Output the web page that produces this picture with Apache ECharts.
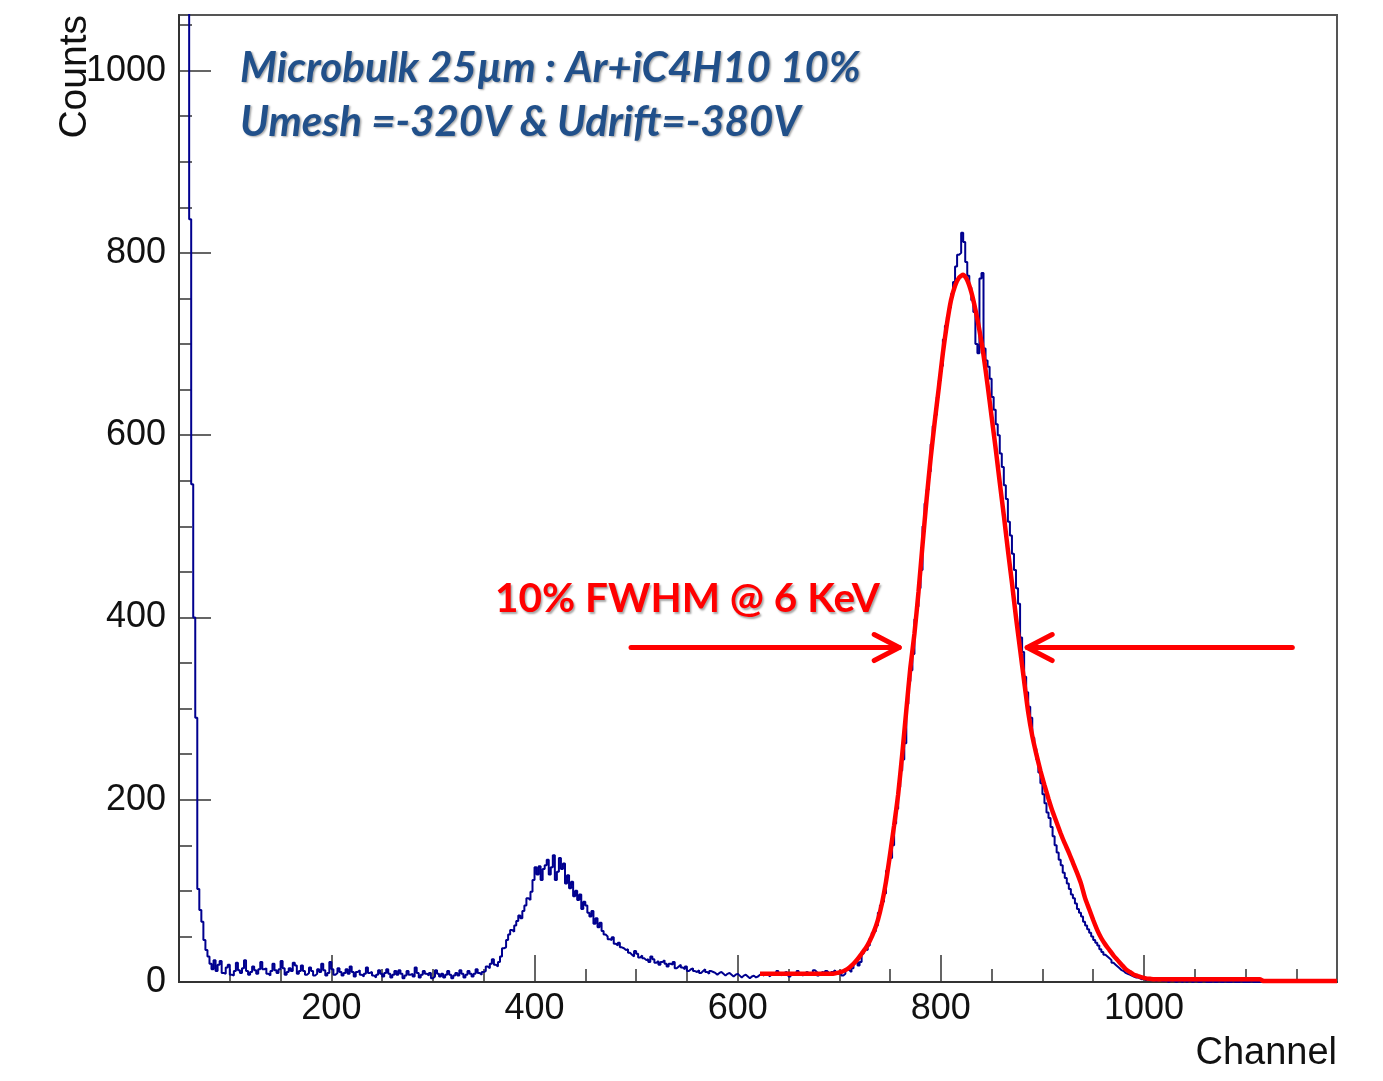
<!DOCTYPE html>
<html>
<head>
<meta charset="utf-8">
<script src="https://cdn.jsdelivr.net/npm/echarts@6/dist/echarts.min.js"></script>
<style>
  html, body { margin: 0; padding: 0; background: #ffffff; }
  #chart { width: 1383px; height: 1081px; }
</style>
</head>
<body>
<div id="chart"></div>
<script>
// Pulse-height spectrum, 2-channel bins starting at channel 50 (20 bins per row)
const binStart = 50;
const binWidth = 2;
const counts = [
  1500, 1500, 1500, 1500, 1500, 837, 546, 400, 290, 102, 79, 66, 46, 35, 28, 20, 14, 24, 12, 19,
  23, 10, 9, 16, 19, 8, 7, 12, 21, 13, 10, 15, 24, 12, 8, 11, 17, 13, 9, 14,
  22, 14, 15, 9, 7, 12, 20, 13, 10, 14, 23, 15, 8, 11, 15, 12, 21, 18, 9, 12,
  18, 12, 8, 10, 16, 12, 7, 9, 14, 11, 20, 13, 7, 10, 22, 14, 8, 10, 15, 11,
  7, 10, 14, 9, 17, 11, 6, 11, 13, 8, 6, 9, 16, 10, 11, 7, 5, 8, 13, 9,
  6, 10, 14, 9, 5, 8, 12, 8, 13, 9, 4, 7, 12, 8, 9, 6, 16, 10, 5, 8,
  12, 9, 7, 10, 4, 6, 13, 9, 6, 9, 5, 8, 12, 8, 4, 7, 10, 7, 13, 9,
  5, 8, 12, 9, 6, 9, 14, 10, 8, 11, 12, 17, 15, 20, 25, 19, 17, 22, 28, 37,
  38, 46, 52, 57, 55, 62, 67, 73, 70, 78, 84, 92, 90, 99, 112, 126, 118, 127, 112, 124,
  128, 134, 118, 126, 139, 112, 121, 136, 124, 130, 108, 117, 103, 110, 94, 100, 90, 96, 80, 88,
  84, 76, 72, 78, 64, 70, 60, 65, 56, 52, 50, 47, 46, 49, 42, 40, 43, 38, 37, 35,
  36, 32, 30, 28, 34, 31, 27, 29, 26, 24, 25, 22, 28, 25, 21, 23, 19, 22, 24, 20,
  17, 20, 19, 22, 15, 17, 19, 16, 14, 17, 12, 14, 15, 12, 11, 13, 10, 12, 14, 11,
  9, 12, 11, 10, 8, 10, 11, 9, 7, 9, 10, 8, 6, 8, 9, 7, 5, 7, 8, 6,
  4, 6, 7, 5, 6, 8, 8, 7, 10, 8, 6, 9, 10, 8, 12, 9, 7, 10, 11, 9,
  6, 9, 10, 8, 12, 9, 7, 9, 11, 10, 8, 10, 13, 11, 7, 10, 11, 9, 12, 10,
  8, 11, 13, 10, 9, 11, 7, 9, 14, 13, 11, 15, 21, 24, 18, 22, 31, 36, 35, 40,
  48, 54, 56, 62, 76, 84, 88, 97, 122, 133, 136, 150, 174, 190, 214, 232, 244, 262, 305, 330,
  342, 360, 398, 412, 432, 452, 500, 525, 540, 560, 590, 610, 622, 642, 660, 676, 705, 720, 730, 740,
  755, 768, 785, 798, 800, 822, 812, 790, 775, 762, 748, 735, 700, 690, 772, 778, 695, 682, 675, 662,
  642, 628, 612, 600, 580, 565, 545, 530, 505, 490, 470, 452, 432, 415, 378, 362, 335, 318, 302, 290,
  268, 256, 244, 230, 218, 206, 196, 186, 180, 170, 160, 150, 142, 134, 128, 120, 114, 108, 102, 96,
  92, 86, 80, 76, 72, 66, 62, 58, 54, 50, 46, 43, 40, 36, 33, 30, 28, 26, 24, 21,
  19, 17, 15, 13, 12, 10, 9, 8, 7, 6, 5, 5, 4, 3, 4, 2, 3, 2, 2, 3,
  1, 2, 3, 1, 1, 2, 0, 1, 2, 1, 0, 1, 1, 0, 2, 0, 1, 1, 0, 1,
  1, 0, 0, 1, 1, 0, 0, 0, 1, 0, 0, 1, 0, 0, 1, 0, 0, 0, 1, 0,
  0, 0, 1, 0, 0, 0, 0, 1, 0, 0, 0, 0, 1, 0, 0, 0, 0, 1, 0, 0,
  0, 0, 0, 0, 1, 0, 0, 0, 0, 0, 0, 0, 0, 1, 0, 0, 0, 0, 0, 0,
  0, 0, 0, 0, 0, 0, 0, 0, 0, 0
];

// Fitted peak model, sampled every 4 channels from channel 622
const fitStart = 622;
const fitStep = 4;
const fitCounts = [
  9, 9, 9, 9, 9, 9, 9, 9, 9, 9,
  9, 9, 9, 9, 9, 9, 9, 9, 9, 10,
  11, 13, 16, 20, 25, 31, 37, 45, 55, 68,
  86, 110, 140, 172, 206, 250, 298, 345, 382, 428,
  480, 530, 575, 615, 652, 690, 722, 748, 764, 773,
  776, 770, 757, 738, 715, 688, 655, 620, 585, 548,
  512, 474, 438, 400, 365, 330, 296, 270, 250, 232,
  216, 201, 187, 175, 163, 152, 142, 131, 120, 108,
  92, 80, 68, 57, 48, 41, 35, 29, 24, 19,
  14, 11, 8, 6.5, 5, 4, 3.5, 3, 3, 3,
  3, 3, 3, 3, 3, 3, 3, 3, 3, 3,
  3, 3, 3, 3, 3, 3, 3, 3, 3, 3,
  3, 3, 3, 3, 1, 1, 1, 1, 1, 1,
  1, 1, 1, 1, 1, 1, 1, 1, 1, 1,
  1, 1, 1
];

// Axis ranges and tick marks
const xRange = [50, 1190];
const yRange = [0, 1061];
const xMinorTicks = [100, 150, 250, 300, 350, 450, 500, 550, 650, 700, 750, 850, 900, 950, 1050, 1100, 1150];
const xMajorTicks = [200, 400, 600, 800, 1000];
const yMinorTicks = [50, 100, 150, 250, 300, 350, 450, 500, 550, 650, 700, 750, 850, 900, 950, 1050];
const yMajorTicks = [0, 200, 400, 600, 800, 1000];

// Annotation text and FWHM markers (channel positions at the marker level)
const titleLines = ['Microbulk 25µm : Ar+iC4H10 10%', 'Umesh =-320V & Udrift=-380V'];
const fwhmLabel = '10% FWHM @ 6 KeV';
const fwhmLevel = 367;
const leftArrow = [495, 759];    // tail, tip
const rightArrow = [1146, 885];  // tail, tip

const histData = counts.map((c, i) => [binStart + i * binWidth, c]);
histData.push([binStart + counts.length * binWidth, counts[counts.length - 1]]);
const fitData = fitCounts.map((c, i) => [fitStart + i * fitStep, c]);

const axisColor = '#333333';
const tickFont = {
  fontFamily: 'Liberation Sans, Arial, sans-serif', fontSize: 36, color: '#111111',
  formatter: function (v) { return String(v); }
};

const chart = echarts.init(document.getElementById('chart'), null, { renderer: 'canvas' });

chart.setOption({
  animation: false,
  backgroundColor: '#ffffff',
  grid: {
    left: 179, right: 46, top: 15, bottom: 99,
    show: true, borderColor: '#555555', borderWidth: 2, backgroundColor: 'transparent'
  },
  xAxis: [
    {
      type: 'value', min: xRange[0], max: xRange[1],
      axisLine: { show: true, onZero: false, lineStyle: { color: axisColor, width: 2 } },
      axisTick: { show: true, inside: true, length: 13, customValues: xMinorTicks, lineStyle: { color: axisColor, width: 1.5 } },
      axisLabel: Object.assign({ show: true, customValues: xMajorTicks, margin: 9 }, tickFont),
      splitLine: { show: false }
    },
    {
      type: 'value', min: xRange[0], max: xRange[1], position: 'bottom', offset: 0,
      axisLine: { show: false },
      axisTick: { show: true, inside: true, length: 27, customValues: xMajorTicks, lineStyle: { color: axisColor, width: 1.5 } },
      axisLabel: { show: false },
      splitLine: { show: false }
    }
  ],
  yAxis: [
    {
      type: 'value', min: yRange[0], max: yRange[1],
      axisLine: { show: true, onZero: false, lineStyle: { color: axisColor, width: 2 } },
      axisTick: { show: true, inside: true, length: 32, customValues: yMajorTicks, lineStyle: { color: axisColor, width: 1.5 } },
      axisLabel: Object.assign({ show: true, customValues: yMajorTicks, margin: 13 }, tickFont),
      splitLine: { show: false }
    },
    {
      type: 'value', min: yRange[0], max: yRange[1], position: 'left', offset: 0,
      axisLine: { show: false },
      axisTick: { show: true, inside: true, length: 13, customValues: yMinorTicks, lineStyle: { color: axisColor, width: 1.5 } },
      axisLabel: { show: false },
      splitLine: { show: false }
    }
  ],
  series: [
    {
      name: 'Spectrum', type: 'line', xAxisIndex: 0, yAxisIndex: 0,
      data: histData, step: 'end', showSymbol: false, clip: true,
      lineStyle: { color: '#00008f', width: 2 }, z: 2
    },
    {
      name: 'Fit', type: 'line', xAxisIndex: 0, yAxisIndex: 0,
      data: fitData, showSymbol: false, clip: true, smooth: 0.2,
      lineStyle: { color: '#ff0000', width: 4.5 }, z: 3
    }
  ]
});

// Text and arrows drawn on top of the plot
function arrow(tailCh, tipCh, level) {
  const tail = chart.convertToPixel({ xAxisIndex: 0, yAxisIndex: 0 }, [tailCh, level]);
  const tip = chart.convertToPixel({ xAxisIndex: 0, yAxisIndex: 0 }, [tipCh, level]);
  const dir = tip[0] > tail[0] ? 1 : -1;
  const style = { stroke: '#ff0000', lineWidth: 5, lineCap: 'round', lineJoin: 'round', fill: null };
  return [
    { type: 'polyline', shape: { points: [tail, tip] }, style: style, z: 10 },
    { type: 'polyline', shape: { points: [[tip[0] - dir * 25, tip[1] - 13], tip, [tip[0] - dir * 25, tip[1] + 13]] }, style: style, z: 10 }
  ];
}

const shadow = { textShadowColor: 'rgba(0,0,0,0.35)', textShadowBlur: 2, textShadowOffsetX: 1.5, textShadowOffsetY: 1.5 };
const titleStyle = Object.assign({ fill: '#21508a', font: 'italic bold 42px Lato, "Open Sans", sans-serif', textVerticalAlign: 'middle' }, shadow);

chart.setOption({
  graphic: [
    { type: 'text', x: 240, y: 68, style: Object.assign({ text: titleLines[0] }, titleStyle), z: 10 },
    { type: 'text', x: 240, y: 122, style: Object.assign({ text: titleLines[1] }, titleStyle), z: 10 },
    { type: 'text', x: 495, y: 599, style: Object.assign({ text: fwhmLabel, fill: '#ff0000', font: 'bold 40.5px Lato, "Open Sans", sans-serif', textVerticalAlign: 'middle' }, shadow), z: 10 },
    { type: 'text', x: 75, y: 15, rotation: Math.PI / 2, style: { text: 'Counts', fill: '#111111', font: '39px "Liberation Sans", Arial, sans-serif', textAlign: 'right', textVerticalAlign: 'middle' }, z: 10 },
    { type: 'text', x: 1337, y: 1054, style: { text: 'Channel', fill: '#111111', font: '38px "Liberation Sans", Arial, sans-serif', textAlign: 'right', textVerticalAlign: 'middle' }, z: 10 }
  ].concat(arrow(leftArrow[0], leftArrow[1], fwhmLevel), arrow(rightArrow[0], rightArrow[1], fwhmLevel))
});
</script>
</body>
</html>
